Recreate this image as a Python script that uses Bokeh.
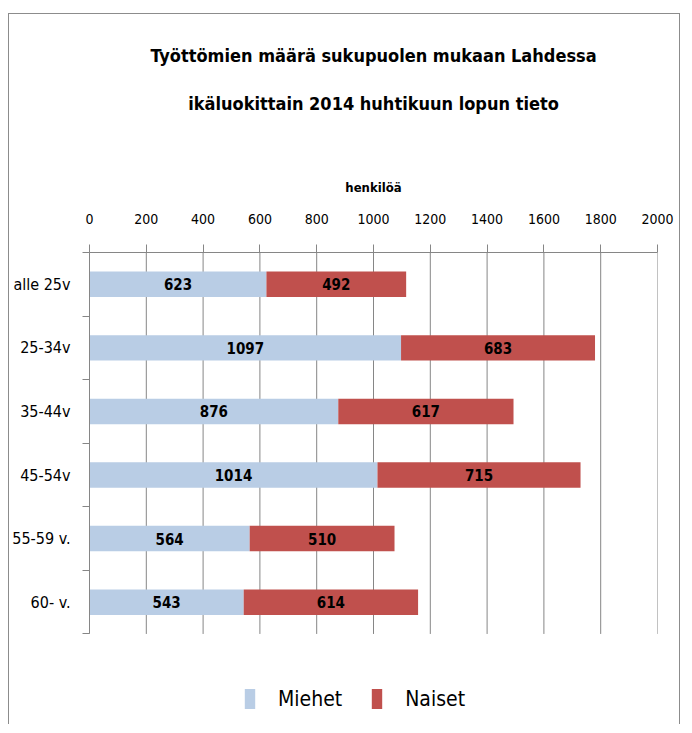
from bokeh.plotting import figure
from bokeh.models import (ColumnDataSource, FixedTicker, Title, Legend, LegendItem, Range1d)
from bokeh.core.properties import value
from bokeh.embed import file_html
from bokeh.resources import INLINE

categories = ["alle 25v", "25-34v", "35-44v", "45-54v", "55-59 v.", "60- v."]
miehet = [623, 1097, 876, 1014, 564, 543]
naiset = [492, 683, 617, 715, 510, 614]
x_ticks = [0, 200, 400, 600, 800, 1000, 1200, 1400, 1600, 1800, 2000]

FONT = "DejaVu Sans Condensed"
BLUE = "#B9CDE5"
RED = "#C0504D"
GRID = "#868686"
FRAME = "1px solid #8c8c8c"

n = len(categories)
pos = [i + 0.5 for i in range(n)]
src = ColumnDataSource(dict(
    y=pos,
    m=miehet,
    nend=[a + b for a, b in zip(miehet, naiset)],
    mmid=[a / 2 for a in miehet],
    nmid=[a + b / 2 for a, b in zip(miehet, naiset)],
    mlab=[str(a) for a in miehet],
    nlab=[str(b) for b in naiset],
))

# frame extends below the category area to hold the legend
p = figure(width=672, height=711, x_range=Range1d(0, 2000), y_range=Range1d(n + 1.44, 0),
           x_axis_location="above", output_backend="svg", toolbar_location=None,
           min_border_left=78, min_border_right=24, min_border_top=0, min_border_bottom=0,
           styles={"border-top": FRAME, "border-left": FRAME, "border-right": FRAME,
                   "margin-left": "8px", "margin-top": "13px"})
p.outline_line_color = None
p.background_fill_color = "white"
p.xgrid.grid_line_color = None
p.ygrid.grid_line_color = None

# vertical grid lines limited to the category area
p.segment(x0=x_ticks, y0=[0] * len(x_ticks), x1=x_ticks, y1=[n] * len(x_ticks),
          line_color=GRID, line_width=1)

r1 = p.hbar(y="y", left=0, right="m", height=0.4, source=src, fill_color=BLUE, line_color=None)
r2 = p.hbar(y="y", left="m", right="nend", height=0.4, source=src, fill_color=RED, line_color=None)

for xcol, tcol in (("mmid", "mlab"), ("nmid", "nlab")):
    p.text(x=xcol, y="y", text=tcol, source=src, text_align="center", text_baseline="middle",
           text_font=value(FONT), text_font_style="bold", text_font_size="15px", text_color="black")

# x axis (top)
xa = p.xaxis[0]
xa.ticker = FixedTicker(ticks=x_ticks, minor_ticks=[])
xa.major_tick_in = 0
xa.major_tick_out = 8
xa.major_tick_line_color = GRID
xa.axis_line_color = GRID
xa.major_label_text_font = FONT
xa.major_label_text_font_size = "14px"
xa.major_label_text_color = "black"
xa.major_label_standoff = 21
xa.axis_label = "henkilöä"
xa.axis_label_text_font = FONT
xa.axis_label_text_font_style = "bold"
xa.axis_label_text_font_size = "13px"
xa.axis_label_text_color = "black"
xa.axis_label_standoff = 16

ya = p.yaxis[0]
ya.bounds = (0, n)
ya.ticker = FixedTicker(ticks=pos, minor_ticks=list(range(n + 1)))
ya.major_label_overrides = {pv: c for pv, c in zip(pos, categories)}
ya.major_tick_in = 0
ya.major_tick_out = 0
ya.minor_tick_in = 0
ya.minor_tick_out = 7
ya.minor_tick_line_color = GRID
ya.axis_line_color = GRID
ya.major_label_text_font = FONT
ya.major_label_text_font_size = "16px"
ya.major_label_text_color = "black"
ya.major_label_standoff = 12

# title lines, stacked from the plot upward (spacers are blank titles)
sp = Title(text=" ", text_font=FONT, text_font_size="18px", standoff=27)
t2 = Title(text="ikäluokittain 2014 huhtikuun lopun tieto", align="center", text_font=FONT,
           text_font_style="bold", text_font_size="18px", text_color="black", standoff=25)
t1 = Title(text="Työttömien määrä sukupuolen mukaan Lahdessa", align="center", text_font=FONT,
           text_font_style="bold", text_font_size="18px", text_color="black", standoff=25)
t0 = Title(text=" ", text_font=FONT, text_font_size="8px", standoff=5)
p.add_layout(sp, "above")
p.add_layout(t2, "above")
p.add_layout(t1, "above")
p.add_layout(t0, "above")

legend = Legend(items=[LegendItem(label="Miehet", renderers=[r1]), LegendItem(label="Naiset", renderers=[r2])],
                orientation="horizontal", location=(154, 14), label_text_font=FONT,
                label_text_font_size="21px", label_text_color="black", glyph_width=13, glyph_height=25,
                label_standoff=22, spacing=28, border_line_color=None, background_fill_alpha=0)
p.add_layout(legend, "center")

open("out.html", "w").write(file_html(p, INLINE))
